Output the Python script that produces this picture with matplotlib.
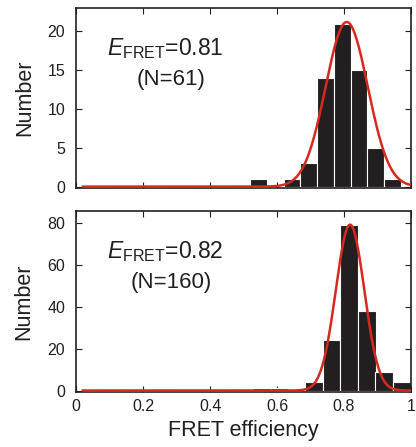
import numpy as np
import matplotlib
matplotlib.use("Agg")
import matplotlib.pyplot as plt

plt.rcParams['font.family'] = ['Liberation Sans', 'DejaVu Sans']
plt.rcParams['mathtext.fontset'] = 'custom'
plt.rcParams['mathtext.rm'] = 'Liberation Sans'
plt.rcParams['mathtext.it'] = 'Liberation Sans:italic'

# histogram data
top_centers = [0.545, 0.645, 0.695, 0.745, 0.795, 0.845, 0.895, 0.945]
top_counts = [1, 1, 3, 14, 21, 15, 5, 1]
top_width = 0.05
top_fit = dict(amp=21.2, mu=0.808, sigma=0.063)

bot_centers = [0.555, 0.607, 0.710, 0.762, 0.815, 0.868, 0.920, 0.973]
bot_counts = [1, 1, 4, 24, 79, 38, 9, 4]
bot_width = 0.0525
bot_fit = dict(amp=79, mu=0.818, sigma=0.0425)

labels = [(r'$\mathit{E}_{\mathrm{FRET}}$=0.81', '(N=61)'),
          (r'$\mathit{E}_{\mathrm{FRET}}$=0.82', '(N=160)')]

bar_col = '#231f20'
fit_col = '#d42a20'
txt_col = '#231f20'

fig = plt.figure(figsize=(4.16, 4.47), dpi=100)
ax1 = fig.add_axes([0.183, 0.579, 0.805, 0.403])
ax2 = fig.add_axes([0.183, 0.124, 0.805, 0.404])

xs = np.linspace(0.02, 1.0, 400)

panels = [
    (ax1, top_centers, top_counts, top_width, top_fit, (-0.2, 23), [0, 5, 10, 15, 20], labels[0]),
    (ax2, bot_centers, bot_counts, bot_width, bot_fit, (-0.5, 85.5), [0, 20, 40, 60, 80], labels[1]),
]

for ax, c, n, w, fit, ylim, yt, lab in panels:
    ax.bar(c, n, width=w, color=bar_col, edgecolor='white', linewidth=0.8, zorder=2)
    ys = fit['amp'] * np.exp(-(xs - fit['mu']) ** 2 / (2 * fit['sigma'] ** 2))
    ax.plot(xs, ys, color=fit_col, lw=1.8, zorder=3)
    ax.set_xlim(0, 1)
    ax.set_ylim(*ylim)
    ax.set_yticks(yt)
    ax.set_xticks([0, 0.2, 0.4, 0.6, 0.8, 1.0])
    ax.tick_params(direction='in', top=True, right=True, length=4, width=0.8,
                   labelsize=11.5, colors=txt_col, labelcolor=txt_col)
    ax.tick_params(axis='y', pad=8)
    ax.tick_params(axis='x', pad=5)
    for s in ax.spines.values():
        s.set_linewidth(1.2)
        s.set_color(txt_col)
    ax.set_ylabel('Number', fontsize=15.5, color=txt_col, labelpad=9)
    ax.text(0.093, 0.739, lab[0], transform=ax.transAxes, fontsize=16.5,
            color=txt_col, va='baseline', ha='left')
    ax.text(0.284, 0.572, lab[1], transform=ax.transAxes, fontsize=16,
            color=txt_col, va='baseline', ha='center')

ax1.set_xticklabels([])
ax2.set_xticklabels(['0', '0.2', '0.4', '0.6', '0.8', '1'])
ax2.set_xlabel('FRET efficiency', fontsize=15.5, color=txt_col, labelpad=5)

fig.savefig('out.png', dpi=100)
